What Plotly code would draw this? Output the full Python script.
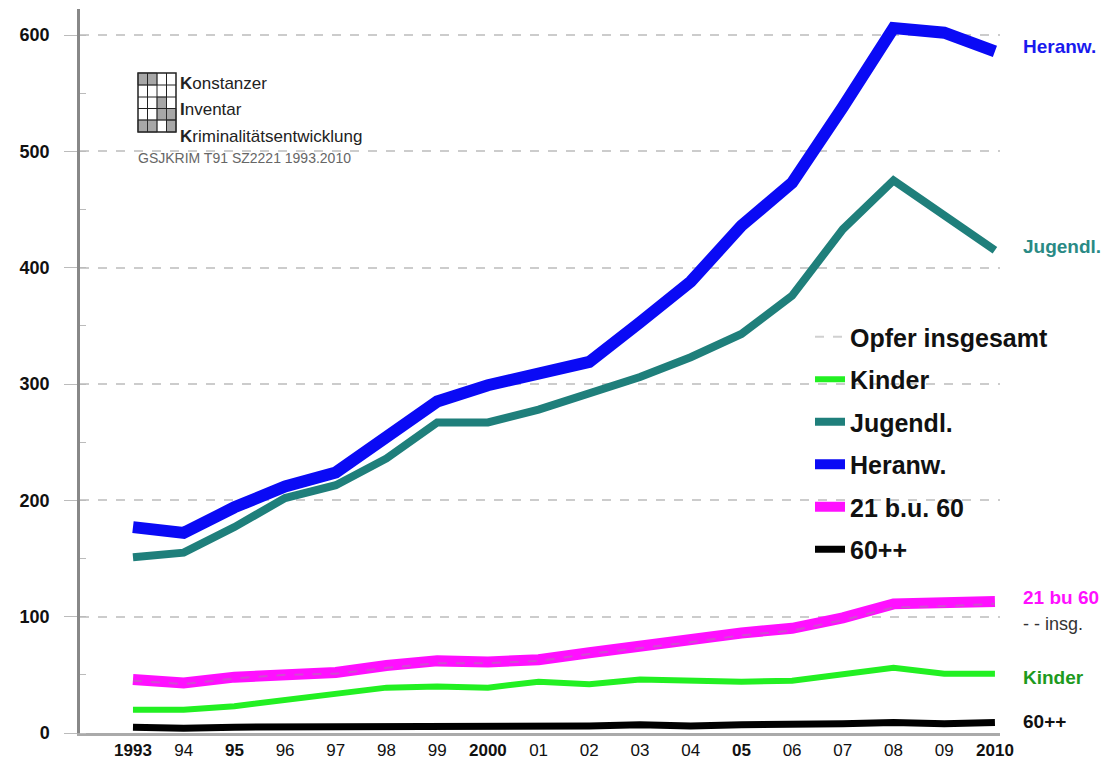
import plotly.graph_objects as go

years = list(range(1993, 2011))
tick_labels = ["<b>1993</b>", "94", "<b>95</b>", "96", "97", "98", "99", "<b>2000</b>",
               "01", "02", "03", "04", "<b>05</b>", "06", "07", "08", "09", "<b>2010</b>"]

heranw = [177, 172, 194, 212, 224, 254, 285, 299, 309, 319, 353, 388, 436, 473, 538, 606, 602, 586]
jugendl = [151, 155, 177, 202, 213, 236, 267, 267, 278, 292, 306, 323, 343, 376, 433, 475, 445, 415]
b21u60 = [46, 43, 48, 51, 52, 58, 62, 61, 63, 69, 75, 80, 86, 90, 99, 111, 112, 113]
insg = [45, 42, 47, 50, 51, 56, 60, 60, 62, 68, 73, 78, 84, 88, 97, 108, 109, 111]
kinder = [20, 20, 23, 28, 34, 39, 40, 39, 44, 42, 46, 45, 44, 45, 50, 56, 51, 51]
plus60 = [5, 4, 5, 5, 5, 5, 6, 6, 6, 6, 7, 6, 7, 7, 8, 9, 8, 9]

y_ticks = [0, 100, 200, 300, 400, 500, 600]

OFF = 8  # page body margin
W, H = 1113 - OFF, 773 - OFF
# target screen pixel positions
PLOT_L, PLOT_R, PLOT_T, PLOT_B = 80, 1000, 9, 733
ML, MT = PLOT_L - OFF, PLOT_T - OFF
MR = W - (PLOT_R - OFF)
MB = H - (PLOT_B - OFF)
PW, PH = PLOT_R - PLOT_L, PLOT_B - PLOT_T

FONT = "Liberation Sans, Arial, sans-serif"


def px(x):
    return (x - PLOT_L) / PW


def py(y):
    return (PLOT_B - y) / PH


fig = go.Figure()

series = [
    ("60++", plus60, "#000000", 7, None, 6),
    ("Kinder", kinder, "#22f022", 6, None, 2),
    ("21 b.u. 60", b21u60, "#ff10ff", 11, None, 5),
    ("Opfer insgesamt", insg, "rgba(150,150,150,0.45)", 2, "dash", 1),
    ("Jugendl.", jugendl, "#1f7f7b", 8, None, 3),
    ("Heranw.", heranw, "#0a0af5", 12, None, 4),
]
for name, vals, col, w, dash, rank in series:
    fig.add_trace(go.Scatter(
        x=years, y=vals, mode="lines", name=f"<b>{name}</b>",
        line=dict(color=col, width=w, dash=dash),
        legendrank=rank, legendgroup=name,
        hoverinfo="skip",
    ))

# right-side labels
labels = [
    ("Heranw.", heranw[-1], 5, "#1a1aee", True),
    ("Jugendl.", jugendl[-1], 4, "#2a8a85", True),
    ("21 bu 60", b21u60[-1], 4, "#ff10ff", True),
    ("- - insg.", insg[-1], -20, "#333333", False),
    ("Kinder", kinder[-1], -4, "#1e9a1e", True),
    ("60++", plus60[-1], 1, "#111111", True),
]
for txt, yv, ys, col, bold in labels:
    fig.add_annotation(
        x=2010, y=yv, xref="x", yref="y", xanchor="left", yanchor="middle",
        xshift=26, yshift=ys, showarrow=False,
        text=f"<b>{txt}</b>" if bold else txt,
        font=dict(family=FONT, size=19 if bold else 18, color=col),
    )

# logo grid icon
x0, x1, y0, y1 = 138, 176, 73, 132
fig.add_shape(type="rect", xref="paper", yref="paper", x0=px(x0), x1=px(x1), y0=py(y1), y1=py(y0),
              line=dict(color="#222", width=1.5), fillcolor="rgba(0,0,0,0)")
for gx in [147.5, 157, 166.5]:
    fig.add_shape(type="line", xref="paper", yref="paper", x0=px(gx), x1=px(gx), y0=py(y1), y1=py(y0),
                  line=dict(color="#222", width=1))
for gy in [85, 97, 108.5, 120]:
    fig.add_shape(type="line", xref="paper", yref="paper", x0=px(x0), x1=px(x1), y0=py(gy), y1=py(gy),
                  line=dict(color="#222", width=1))
for (a, b, c, d) in [(138, 147.5, 73, 85), (147.5, 157, 73, 85), (157, 176, 108.5, 120),
                     (138, 157, 120, 132), (166.5, 176, 120, 132), (157, 166.5, 97, 108.5)]:
    fig.add_shape(type="rect", xref="paper", yref="paper", x0=px(a), x1=px(b), y0=py(d), y1=py(c),
                  line=dict(color="#222", width=0.5), fillcolor="rgba(60,60,60,0.45)")

for txt, yy in [("<b>K</b>onstanzer", 84), ("<b>I</b>nventar", 110), ("<b>K</b>riminalitätsentwicklung", 136)]:
    fig.add_annotation(x=px(178), y=py(yy), xref="paper", yref="paper", xanchor="left", yanchor="middle",
                       showarrow=False, text=txt, font=dict(family=FONT, size=17, color="#222"))
fig.add_annotation(x=px(136), y=py(158), xref="paper", yref="paper", xanchor="left", yanchor="middle",
                   showarrow=False, text="GSJKRIM T91 SZ2221 1993.2010",
                   font=dict(family=FONT, size=14, color="#666"))

fig.update_layout(
    width=W, height=H,
    margin=dict(l=ML, r=MR, t=MT, b=MB, autoexpand=False),
    paper_bgcolor="white", plot_bgcolor="white",
    showlegend=True,
    legend=dict(x=px(810), y=py(314), xanchor="left", yanchor="top",
                bgcolor="rgba(0,0,0,0)", tracegroupgap=7,
                font=dict(family=FONT, size=25, color="#111"),
                itemwidth=30),
    xaxis=dict(range=[1991.955, 2010.1], tickmode="array", tickvals=years, ticktext=tick_labels,
               showgrid=False, zeroline=False, showline=True, linecolor="#aaaaaa", linewidth=3,
               ticks="", tickfont=dict(family=FONT, size=17, color="#111")),
    yaxis=dict(range=[0, PH / 1.1633], tickmode="array", tickvals=y_ticks,
               ticktext=[f"<b>{v}</b>" for v in y_ticks],
               showgrid=True, gridcolor="#cccccc", griddash="dash", gridwidth=1.5,
               zeroline=False, showline=True, linecolor="#888888", linewidth=2.5,
               ticks="outside", ticklen=13, tickcolor="#bbbbbb", tickwidth=1,
               ticklabelstandoff=11,
               minor=dict(ticks="inside", ticklen=6, tickcolor="#bbbbbb", dtick=50, showgrid=False),
               tickfont=dict(family=FONT, size=18, color="#111")),
)

fig.write_html("out.html")
